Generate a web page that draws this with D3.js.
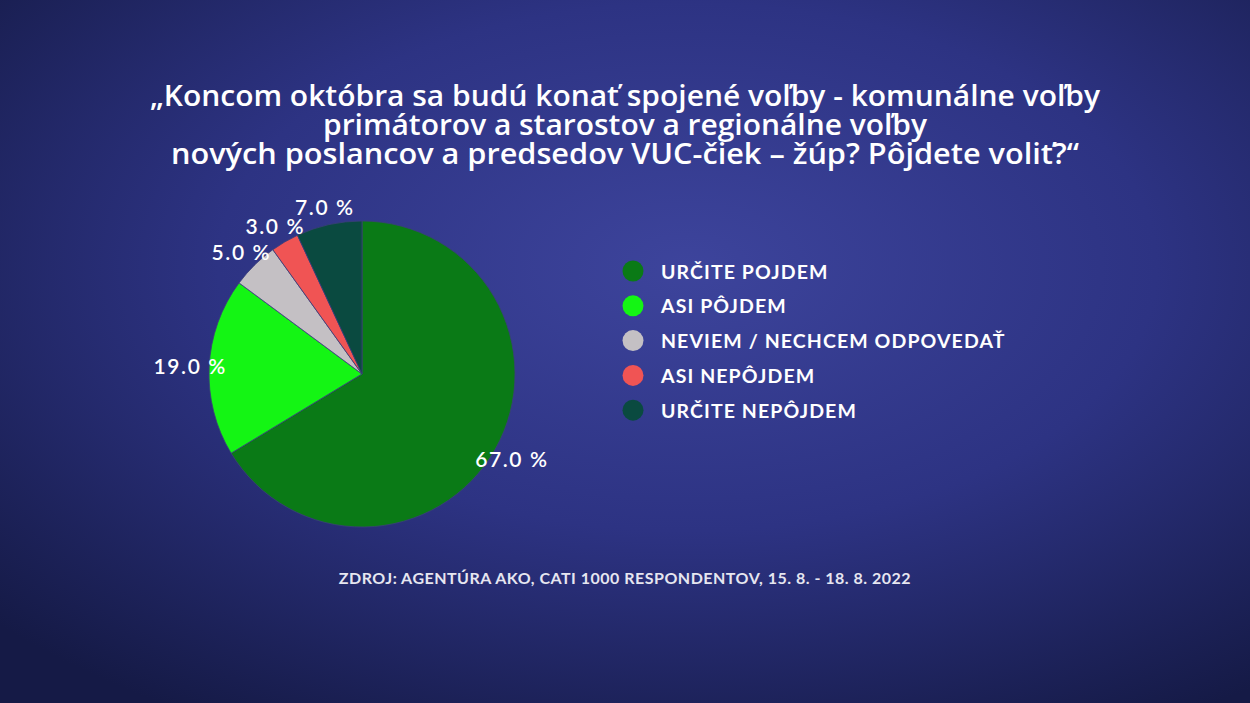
<!DOCTYPE html>
<html><head><meta charset="utf-8">
<script src="https://cdn.jsdelivr.net/npm/d3@7"></script>
<style>html,body{margin:0;padding:0;background:#1c2158;overflow:hidden}</style>
</head><body>
<svg id="c" width="1250" height="703"></svg>
<script>
const categories = ["URČITE POJDEM","ASI PÔJDEM","NEVIEM / NECHCEM ODPOVEDAŤ","ASI NEPÔJDEM","URČITE NEPÔJDEM"];
const values = [67.0, 19.0, 5.0, 3.0, 7.0];
const colors = ["#0a7a16","#14f514","#c4c0c4","#f05454","#0a4a40"];
const titleLines = ["„Koncom októbra sa budú konať spojené voľby - komunálne voľby","primátorov a starostov a regionálne voľby","nových poslancov a predsedov VUC-čiek – žúp? Pôjdete voliť?“"];
const titleWidths = [950, 604, 908];
const sourceText = "ZDROJ: AGENTÚRA AKO, CATI 1000 RESPONDENTOV, 15. 8. - 18. 8. 2022";

const svg = d3.select("#c");
const defs = svg.append("defs");
const rg = defs.append("radialGradient").attr("id","bg").attr("cx","0.55").attr("cy","0.38").attr("r","0.75");
rg.append("stop").attr("offset","0").attr("stop-color","#3d449c");
rg.append("stop").attr("offset","0.5").attr("stop-color","#2d3383");
rg.append("stop").attr("offset","1").attr("stop-color","#151a46");
svg.append("rect").attr("width",1250).attr("height",703).attr("fill","url(#bg)");

// title (one text element, one tspan per line)
const title = svg.append("text")
  .attr("text-anchor","middle").attr("fill","#ffffff")
  .attr("font-family","'Open Sans', sans-serif").attr("font-weight",600)
  .attr("font-size",28);
title.selectAll("tspan").data(titleLines).join("tspan")
  .attr("x",625).attr("y",(d,i)=>106+i*29)
  .attr("textLength",(d,i)=>titleWidths[i]).attr("lengthAdjust","spacingAndGlyphs")
  .text(d=>d);

// pie
const cx=362, cy=374, r=153;
const pie = d3.pie().sort(null).value(d=>d);
const arcs = pie(values);
const arc = d3.arc().innerRadius(0).outerRadius(r);
const labelArc = d3.arc().innerRadius(172).outerRadius(172);
const g = svg.append("g").attr("transform",`translate(${cx},${cy})`);
g.selectAll("path").data(arcs).join("path")
  .attr("d",arc).attr("fill",(d,i)=>colors[i])
  .attr("stroke","#3a3f7a").attr("stroke-width",0.8);
g.selectAll("text").data(arcs).join("text")
  .attr("transform",d=>`translate(${labelArc.centroid(d)})`)
  .attr("text-anchor","middle").attr("dominant-baseline","central")
  .attr("fill","#ffffff").attr("font-family","Lato, sans-serif").attr("font-weight",600)
  .attr("font-size",21).attr("letter-spacing","1.6")
  .text(d=>d.data.toFixed(1)+" %");

// legend
const lg = svg.append("g");
const items = lg.selectAll("g").data(categories).join("g")
  .attr("transform",(d,i)=>`translate(633,${271+i*34.8})`);
items.append("circle").attr("r",10.5).attr("fill",(d,i)=>colors[i]);
items.append("text").attr("x",28).attr("dominant-baseline","central")
  .attr("fill","#ffffff").attr("font-family","Lato, sans-serif").attr("font-weight",700)
  .attr("font-size",19.5).attr("letter-spacing","1.1")
  .text(d=>d);

// source
svg.append("text").attr("x",625).attr("y",584).attr("text-anchor","middle")
  .attr("fill","#e6e6f0").attr("font-family","Lato, sans-serif").attr("font-weight",700)
  .attr("font-size",16).attr("letter-spacing","0.5").text(sourceText);
</script>
</body></html>
